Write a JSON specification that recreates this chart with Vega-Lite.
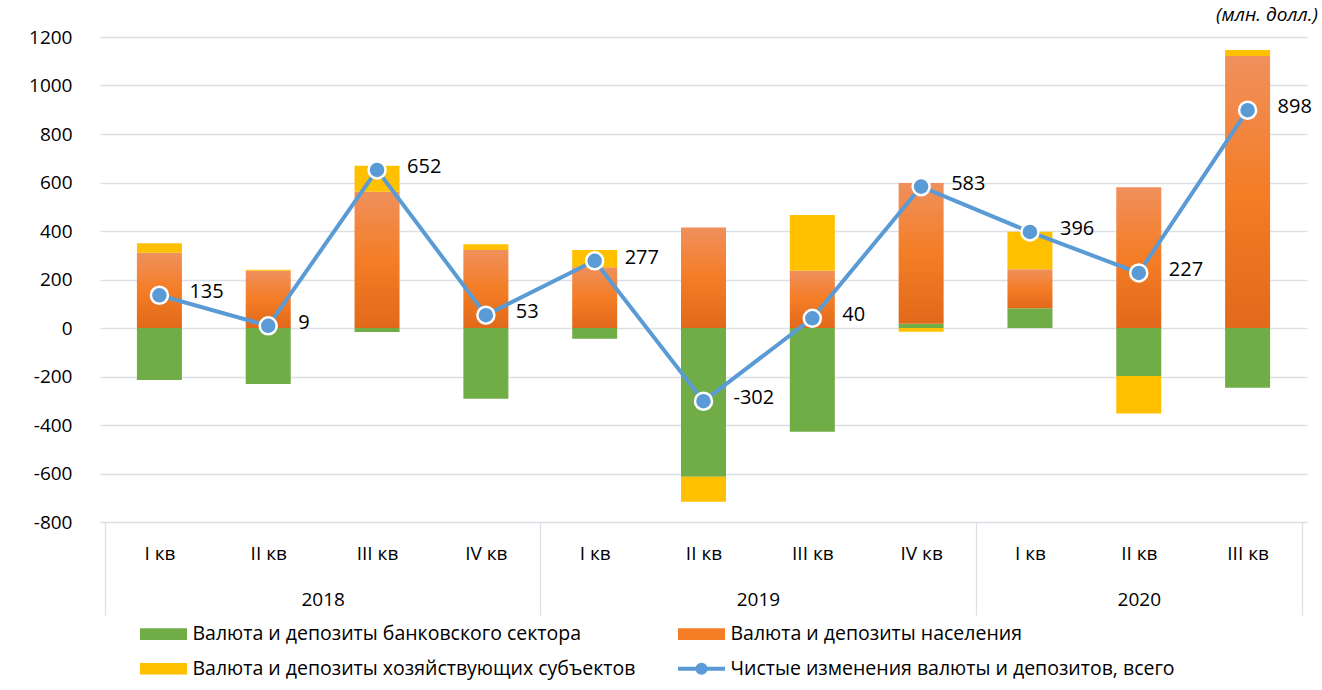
{
  "$schema": "https://vega.github.io/schema/vega-lite/v6.json",
  "width": 1207,
  "height": 485,
  "autosize": {"type": "none"},
  "padding": {"left": 100, "top": 37, "right": 15, "bottom": 168},
  "background": "white",
  "config": {
    "font": "Open Sans",
    "view": {"stroke": null},
    "axis": {"labelFont": "Open Sans", "labelFontSize": 19, "labelColor": "#000000"}
  },
  "title": {
    "text": "(млн. долл.)",
    "anchor": "end",
    "frame": "group",
    "font": "Open Sans",
    "fontStyle": "italic",
    "fontWeight": "normal",
    "fontSize": 19,
    "color": "#000000",
    "offset": 2,
    "dx": 11,
    "dy": 14,
    "baseline": "alphabetic"
  },
  "datasets": {
    "bars": [
      {"i": 0, "series": "Валюта и депозиты банковского сектора", "ord": 1, "value": -214},
      {"i": 0, "series": "Валюта и депозиты населения", "ord": 2, "value": 310},
      {"i": 0, "series": "Валюта и депозиты хозяйствующих субъектов", "ord": 3, "value": 40},
      {"i": 1, "series": "Валюта и депозиты банковского сектора", "ord": 1, "value": -231},
      {"i": 1, "series": "Валюта и депозиты населения", "ord": 2, "value": 236},
      {"i": 1, "series": "Валюта и депозиты хозяйствующих субъектов", "ord": 3, "value": 4},
      {"i": 2, "series": "Валюта и депозиты банковского сектора", "ord": 1, "value": -16},
      {"i": 2, "series": "Валюта и депозиты населения", "ord": 2, "value": 562},
      {"i": 2, "series": "Валюта и депозиты хозяйствующих субъектов", "ord": 3, "value": 107},
      {"i": 3, "series": "Валюта и депозиты банковского сектора", "ord": 1, "value": -292},
      {"i": 3, "series": "Валюта и депозиты населения", "ord": 2, "value": 322},
      {"i": 3, "series": "Валюта и депозиты хозяйствующих субъектов", "ord": 3, "value": 23},
      {"i": 4, "series": "Валюта и депозиты банковского сектора", "ord": 1, "value": -44},
      {"i": 4, "series": "Валюта и депозиты населения", "ord": 2, "value": 251},
      {"i": 4, "series": "Валюта и депозиты хозяйствующих субъектов", "ord": 3, "value": 71},
      {"i": 5, "series": "Валюта и депозиты банковского сектора", "ord": 1, "value": -613},
      {"i": 5, "series": "Валюта и депозиты населения", "ord": 2, "value": 414},
      {"i": 5, "series": "Валюта и депозиты хозяйствующих субъектов", "ord": 3, "value": -103},
      {"i": 6, "series": "Валюта и депозиты банковского сектора", "ord": 1, "value": -428},
      {"i": 6, "series": "Валюта и депозиты населения", "ord": 2, "value": 236},
      {"i": 6, "series": "Валюта и депозиты хозяйствующих субъектов", "ord": 3, "value": 230},
      {"i": 7, "series": "Валюта и депозиты банковского сектора", "ord": 1, "value": 18},
      {"i": 7, "series": "Валюта и депозиты населения", "ord": 2, "value": 580},
      {"i": 7, "series": "Валюта и депозиты хозяйствующих субъектов", "ord": 3, "value": -15},
      {"i": 8, "series": "Валюта и депозиты банковского сектора", "ord": 1, "value": 81},
      {"i": 8, "series": "Валюта и депозиты населения", "ord": 2, "value": 161},
      {"i": 8, "series": "Валюта и депозиты хозяйствующих субъектов", "ord": 3, "value": 155},
      {"i": 9, "series": "Валюта и депозиты банковского сектора", "ord": 1, "value": -198},
      {"i": 9, "series": "Валюта и депозиты населения", "ord": 2, "value": 580},
      {"i": 9, "series": "Валюта и депозиты хозяйствующих субъектов", "ord": 3, "value": -155},
      {"i": 10, "series": "Валюта и депозиты банковского сектора", "ord": 1, "value": -246},
      {"i": 10, "series": "Валюта и депозиты населения", "ord": 2, "value": 1122},
      {"i": 10, "series": "Валюта и депозиты хозяйствующих субъектов", "ord": 3, "value": 24}
    ],
    "tot": [
      {"i": 0, "value": 135},
      {"i": 1, "value": 9},
      {"i": 2, "value": 652},
      {"i": 3, "value": 53},
      {"i": 4, "value": 277},
      {"i": 5, "value": -302},
      {"i": 6, "value": 40},
      {"i": 7, "value": 583},
      {"i": 8, "value": 396},
      {"i": 9, "value": 227},
      {"i": 10, "value": 898}
    ]
  },
  "layer": [
    {
      "data": {"name": "bars"},
      "mark": {"type": "bar", "size": 45},
      "encoding": {
        "x": {
          "field": "i", "type": "quantitative",
          "scale": {"domain": [-0.5, 10.5], "nice": false, "zero": false},
          "axis": {
            "orient": "bottom", "title": null,
            "values": [0, 1, 2, 3, 4, 5, 6, 7, 8, 9, 10],
            "labelExpr": "['I кв','II кв','III кв','IV кв','I кв','II кв','III кв','IV кв','I кв','II кв','III кв'][datum.value]",
            "ticks": false, "domain": false, "grid": false,
            "labelPadding": 22, "labelFlush": false, "labelOverlap": false
          }
        },
        "y": {
          "field": "value", "type": "quantitative", "stack": "zero",
          "scale": {"domain": [-800, 1200], "nice": false, "zero": false},
          "axis": {
            "title": null,
            "values": [-800, -600, -400, -200, 0, 200, 400, 600, 800, 1000, 1200],
            "labelExpr": "datum.value + ''",
            "grid": true, "gridColor": "#DCE0E6", "gridWidth": 1.3,
            "ticks": false, "domain": false, "labelPadding": 28
          }
        },
        "color": {
          "condition": {
            "test": "datum.series === 'Валюта и депозиты населения'",
            "value": {"gradient": "linear", "x1": 0, "y1": 0, "x2": 0, "y2": 1,
               "stops": [{"offset": 0, "color": "#F0905C"}, {"offset": 0.5, "color": "#F47D26"}, {"offset": 1, "color": "#E1691A"}]}
          },
          "field": "series", "type": "nominal",
          "scale": {
            "domain": [
              "Валюта и депозиты банковского сектора",
              "Валюта и депозиты населения",
              "Валюта и депозиты хозяйствующих субъектов",
              "Чистые изменения валюты и депозитов, всего"
            ],
            "range": ["#70AD47", "#F47D26", "#FFC000", "#5B9BD5"]
          },
          "legend": {
            "title": null,
            "orient": "none",
            "legendX": 42,
            "legendY": 587,
            "direction": "horizontal",
            "columns": 2,
            "symbolType": "M-1,-0.5H3V0.5H-1Z",
            "symbolSize": 552,
            "symbolStrokeWidth": 0,
            "labelFont": "Open Sans",
            "labelFontSize": 19.5,
            "labelColor": "#000000",
            "labelLimit": 700,
            "labelOffset": 31,
            "rowPadding": 12,
            "columnPadding": 34,
            "encoding": {
              "symbols": {
                "shape": {"value": {"expr": "datum.value === 'Чистые изменения валюты и депозитов, всего' ? 'M-1,0H3M1.35,0A0.35,0.35 0 1,1 0.65,0A0.35,0.35 0 1,1 1.35,0' : 'M-1,-0.5H3V0.5H-1Z'"}},
                "fill": {"value": {"expr": "datum.value === 'Валюта и депозиты населения' ? {gradient: 'linear', x1: 0, y1: 0, x2: 0, y2: 1, stops: [{offset: 0, color: '#F0905C'}, {offset: 0.5, color: '#F47D26'}, {offset: 1, color: '#E1691A'}]} : scale('color', datum.value)"}},
                "stroke": {"value": "#5B9BD5"},
                "strokeWidth": {"value": {"expr": "datum.value === 'Чистые изменения валюты и депозитов, всего' ? 4 : 0"}}
              }
            }
          }
        },
        "order": {"field": "ord", "type": "quantitative"}
      }
    },
    {
      "mark": {"type": "rule", "color": "#DCE0E6", "strokeWidth": 1.3},
      "encoding": {"y": {"datum": 0, "type": "quantitative"}}
    },
    {
      "data": {"name": "tot"},
      "mark": {"type": "line", "strokeWidth": 4},
      "encoding": {
        "x": {
          "field": "i", "type": "quantitative",
          "axis": {
            "orient": "bottom", "title": null,
            "values": [1.5, 5.5, 9],
            "labelExpr": "datum.value < 4 ? '2018' : (datum.value < 8 ? '2019' : '2020')",
            "ticks": false, "domain": false, "grid": false,
            "labelPadding": 68, "labelFlush": false, "labelOverlap": false
          }
        },
        "y": {"field": "value", "type": "quantitative"},
        "color": {"datum": "Чистые изменения валюты и депозитов, всего"}
      }
    },
    {
      "data": {"name": "tot"},
      "mark": {"type": "point", "filled": true, "fill": "#5B9BD5", "stroke": "white", "strokeWidth": 2.5, "size": 290, "opacity": 1},
      "encoding": {
        "x": {
          "field": "i", "type": "quantitative",
          "axis": {
            "orient": "bottom", "title": null,
            "values": [-0.5, 3.5, 7.5, 10.5],
            "labels": false, "ticks": true, "tickSize": 93, "tickColor": "#DCE0E6", "tickWidth": 1.3,
            "domain": false, "grid": false
          }
        },
        "y": {"field": "value", "type": "quantitative"}
      }
    },
    {
      "data": {"name": "tot"},
      "mark": {"type": "text", "align": "left", "baseline": "middle", "dx": 30, "dy": -3, "fontSize": 20, "font": "Open Sans", "color": "#000000"},
      "encoding": {
        "x": {"field": "i", "type": "quantitative", "axis": null},
        "y": {"field": "value", "type": "quantitative"},
        "text": {"field": "value", "type": "nominal"}
      }
    }
  ],
  "resolve": {"axis": {"x": "independent"}}
}
